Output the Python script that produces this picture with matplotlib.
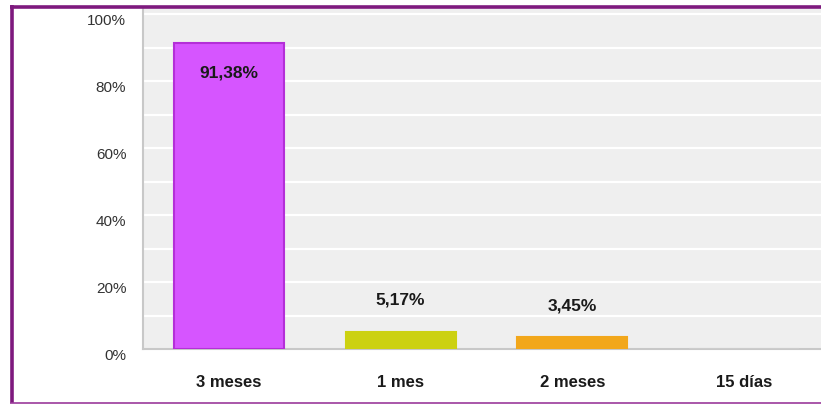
import matplotlib.pyplot as plt
import matplotlib.transforms as mtransforms
from matplotlib.lines import Line2D

categorias = ['3 meses', '1 mes', '2 meses', '15 días']
porcentajes = [91.38, 5.17, 3.45, 0.0]
etiquetas = ['91,38%', '5,17%', '3,45%', '']
colores = ['#D655FF', '#CCD111', '#F2A71B', '#CCCCCC']
bordes = ['#B42FD8', '#CCD111', '#F2A71B', '#CCCCCC']
ticks_y = [0, 20, 40, 60, 80, 100]

plt.rcParams['font.family'] = ['Liberation Sans', 'DejaVu Sans']

fig = plt.figure(figsize=(8.21, 4.05), dpi=100)
fig.patch.set_facecolor('white')

W, H = 821, 405
ax = fig.add_axes([143 / W, 1 - 349 / H, (830 - 143) / W, (349 - 8) / H])
ax.set_facecolor('#EFEFEF')

# lineas de la cuadricula cada 10%
for v in range(10, 101, 10):
    ax.axhline(v, color='white', lw=1.6, zorder=1)

x = range(len(categorias))
barras = ax.bar(x, porcentajes, width=0.64, color=colores, edgecolor=bordes,
                linewidth=1.5, zorder=3)

for i, (v, txt) in enumerate(zip(porcentajes, etiquetas)):
    if not txt:
        continue
    if v > 50:
        ax.text(i, v - 9, txt, ha='center', va='center', fontsize=12.5,
                fontweight='bold', color='#1a1a1a', zorder=4)
    else:
        ax.text(i, v + 9.5, txt, ha='center', va='center', fontsize=12.5,
                fontweight='bold', color='#1a1a1a', zorder=4)

ax.set_xlim(-0.5, 3.5)
ax.set_ylim(0, 101.8)

ax.set_yticks(ticks_y)
ax.set_yticklabels([f'{t}%' for t in ticks_y], fontsize=11, color='#333333')
ax.set_xticks(list(x))
ax.set_xticklabels(categorias, fontsize=12, fontweight='bold', color='#1a1a1a')
ax.tick_params(axis='both', length=0)
ax.tick_params(axis='y', pad=12)
ax.tick_params(axis='x', pad=19)

# etiquetas del eje y un poco por debajo de la linea
desplaza = mtransforms.ScaledTranslation(0, -5 / 100, fig.dpi_scale_trans)
for lbl in ax.get_yticklabels():
    lbl.set_transform(lbl.get_transform() + desplaza)

for lado in ['top', 'right']:
    ax.spines[lado].set_visible(False)
ax.spines['left'].set_color('#C8C8C8')
ax.spines['bottom'].set_color('#C8C8C8')
ax.spines['left'].set_linewidth(1.5)
ax.spines['bottom'].set_linewidth(1.5)

# marco morado
morado = '#7E1A7E'
fig.add_artist(Line2D([11.5 / W, 11.5 / W], [1 - 5 / H, 1 - 403 / H],
                      color=morado, lw=2.6, solid_capstyle='butt',
                      transform=fig.transFigure))
fig.add_artist(Line2D([10 / W, 1], [1 - 6.5 / H, 1 - 6.5 / H],
                      color=morado, lw=2.6, solid_capstyle='butt',
                      transform=fig.transFigure))
fig.add_artist(Line2D([10 / W, 1], [1 - 402.5 / H, 1 - 402.5 / H],
                      color='#9B3A9B', lw=1.2, solid_capstyle='butt',
                      transform=fig.transFigure))

fig.savefig('out.png', dpi=100)
